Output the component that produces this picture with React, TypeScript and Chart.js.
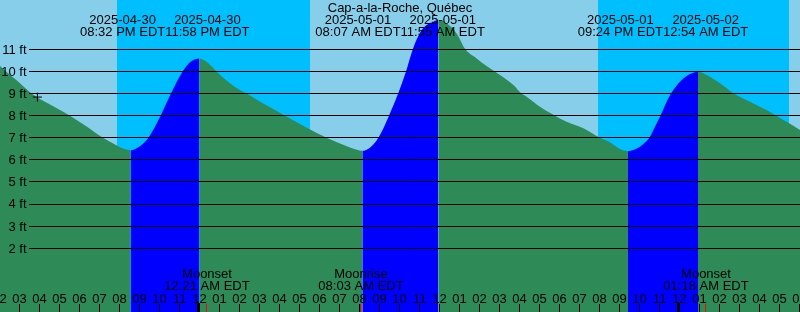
import { useEffect, useRef } from "react";
import { Chart, registerables } from "chart.js";

Chart.register(...registerables);

const TITLE = "Cap-a-la-Roche, Québec";

// hours since 2025-04-30 00:00 EDT
const sampleHours = [
  14.0, 14.3, 14.8, 15.58, 16.5, 17.5, 18.35, 19.15, 19.75, 20.2, 20.533,
  21.0, 21.42, 22.03, 22.55, 23.13, 23.55, 23.967,
  24.25, 24.5, 24.83, 25.25, 25.75, 26.33, 27.25, 28.25, 29.25, 30.33, 31.25, 31.75, 32.117,
  32.5, 32.92, 33.45, 33.95, 34.3, 34.64, 35.0, 35.33, 35.67, 35.917,
  36.33, 36.83, 37.27, 37.83, 38.33, 39.0, 39.67, 40.08, 40.33, 41.0, 41.75, 42.33, 43.17, 44.0, 44.5, 45.0, 45.4,
  46.0, 46.25, 46.5, 46.75, 47.0, 47.5, 48.0, 48.5, 48.9,
  49.33, 50.0, 50.67, 51.5, 52.33, 52.75, 53.33, 54.0,
];
const sampleFeet = [
  10.24, 10.0, 9.62, 9.0, 8.5, 8.0, 7.5, 7.0, 6.7, 6.5, 6.44,
  6.62, 7.0, 8.0, 9.0, 10.0, 10.45, 10.59,
  10.48, 10.3, 10.0, 9.65, 9.3, 9.0, 8.5, 8.0, 7.5, 7.0, 6.65, 6.48, 6.41,
  6.55, 7.0, 8.0, 9.1, 10.0, 11.0, 11.75, 12.1, 12.25, 12.32,
  12.18, 11.72, 11.0, 10.59, 10.24, 9.84, 9.39, 9.0, 8.86, 8.4, 8.0, 7.72, 7.43, 7.0, 6.8, 6.49, 6.39,
  6.59, 6.78, 7.05, 7.5, 7.95, 8.92, 9.53, 9.88, 9.99,
  9.84, 9.46, 9.01, 8.63, 8.25, 8.03, 7.72, 7.35,
];

const tideEventHours = [20.533, 23.967, 32.117, 35.917, 45.4, 48.9];
const tideEventDates = ["2025-04-30", "2025-04-30", "2025-05-01", "2025-05-01", "2025-05-01", "2025-05-02"];
const tideEventTimes = ["08:32 PM EDT", "11:58 PM EDT", "08:07 AM EDT", "11:55 AM EDT", "09:24 PM EDT", "12:54 AM EDT"];

const moonEventHours = [24.35, 32.05, 49.3];
const moonEventNames = ["Moonset", "Moonrise", "Moonset"];
const moonEventTimes = ["12:21 AM EDT", "08:03 AM EDT", "01:18 AM EDT"];

const nightStarts = [19.85, 43.9];
const nightEnds = [29.5, 53.45];

const depthTicks = [2, 3, 4, 5, 6, 7, 8, 9, 10, 11];
const depthTickLabels = ["2 ft", "3 ft", "4 ft", "5 ft", "6 ft", "7 ft", "8 ft", "9 ft", "10 ft", "11 ft"];

const hourTickValues = [
  14, 15, 16, 17, 18, 19, 20, 21, 22, 23, 24, 25, 26, 27, 28, 29, 30, 31, 32, 33, 34,
  35, 36, 37, 38, 39, 40, 41, 42, 43, 44, 45, 46, 47, 48, 49, 50, 51, 52, 53, 54,
];
const hourTickLabels = [
  "02", "03", "04", "05", "06", "07", "08", "09", "10", "11", "12", "01", "02", "03", "04", "05", "06", "07", "08", "09", "10",
  "11", "12", "01", "02", "03", "04", "05", "06", "07", "08", "09", "10", "11", "12", "01", "02", "03", "04", "05", "06",
];
const midnightHours = [24, 48];

const markerHour = [15.87];
const markerFeet = [8.84];

const DAY = "#87CEEB";
const NIGHT = "#00BFFF";
const FLOOD = "#0000FF";
const EBB = "#2E8B57";
const FONT = '13px "Liberation Sans", Arial, sans-serif';

export default function App() {
  const ref = useRef<HTMLCanvasElement | null>(null);

  useEffect(() => {
    if (!ref.current) return;

    const decor = {
      id: "tideDecor",
      beforeDatasetsDraw(chart: any) {
        const { ctx, chartArea, scales } = chart;
        const xs = scales.x;
        ctx.save();
        ctx.fillStyle = DAY;
        ctx.fillRect(0, 0, chart.width, chart.height);
        ctx.fillStyle = NIGHT;
        for (let i = 0; i < nightStarts.length; i++) {
          const a = Math.round(xs.getPixelForValue(nightStarts[i]));
          const b = Math.round(xs.getPixelForValue(nightEnds[i]));
          ctx.fillRect(a, chartArea.top, b - a, chartArea.height);
        }
        ctx.restore();
      },
      afterDatasetsDraw(chart: any) {
        const { ctx, chartArea, scales } = chart;
        const xs = scales.x;
        const ys = scales.y;
        ctx.save();
        ctx.strokeStyle = "#000";
        ctx.lineWidth = 1;
        ctx.font = FONT;
        ctx.fillStyle = "#000";
        ctx.textAlign = "right";
        ctx.textBaseline = "alphabetic";
        depthTicks.forEach((v, i) => {
          const py = ys.getPixelForValue(v);
          const yy = Math.floor(py) + 0.5;
          ctx.beginPath();
          ctx.moveTo(29, yy);
          ctx.lineTo(chartArea.right, yy);
          ctx.stroke();
          ctx.fillText(depthTickLabels[i], 26.5, py + 4.3);
        });

        ctx.textAlign = "center";
        ctx.fillText(TITLE, 400, 12);

        const centers = tideEventHours.map((h) => xs.getPixelForValue(h));
        const widths = tideEventHours.map((_, i) =>
          Math.max(ctx.measureText(tideEventDates[i]).width, ctx.measureText(tideEventTimes[i]).width)
        );
        for (let i = 1; i < centers.length; i++) {
          const rightPrev = centers[i - 1] + widths[i - 1] / 2;
          const leftCur = centers[i] - widths[i] / 2;
          if (leftCur < rightPrev) {
            const ov = rightPrev - leftCur;
            centers[i - 1] -= ov / 2;
            centers[i] += ov / 2;
          }
        }
        centers.forEach((cx, i) => {
          ctx.fillText(tideEventDates[i], cx, 24.3);
          ctx.fillText(tideEventTimes[i], cx, 36);
        });

        moonEventHours.forEach((h, i) => {
          const cx = xs.getPixelForValue(h);
          ctx.fillText(moonEventNames[i], cx, 278.3);
          ctx.fillText(moonEventTimes[i], cx, 290.3);
        });

        hourTickValues.forEach((h, i) => {
          const px = xs.getPixelForValue(h);
          ctx.fillStyle = "#000";
          ctx.fillRect(Math.round(px) - 1, 304, 1, 8);
          ctx.fillText(hourTickLabels[i], px - 0.5, 302.6);
        });
        midnightHours.forEach((h) => {
          const px = Math.round(xs.getPixelForValue(h));
          ctx.fillRect(px - 3, 303, 3, 9);
        });
        ctx.fillStyle = "#FF0000";
        moonEventHours.forEach((h) => {
          const px = Math.round(xs.getPixelForValue(h));
          ctx.fillRect(px - 1, 304, 1, 8);
        });
        ctx.restore();
      },
    };

    const chart = new Chart(ref.current, {
      type: "line",
      data: {
        datasets: [
          {
            type: "line",
            data: sampleHours.map((h, i) => ({ x: h, y: sampleFeet[i] })),
            fill: "start",
            backgroundColor: EBB,
            borderColor: "rgba(0,0,0,0)",
            borderWidth: 0,
            pointRadius: 0,
            cubicInterpolationMode: "monotone",
            segment: {
              backgroundColor: (c: any) => (c.p1.parsed.y >= c.p0.parsed.y ? FLOOD : EBB),
            },
            order: 2,
          } as any,
          {
            type: "scatter",
            data: markerHour.map((h, i) => ({ x: h, y: markerFeet[i] })),
            pointStyle: "cross",
            pointRadius: 4.5,
            borderColor: "#000",
            borderWidth: 1,
            showLine: false,
            clip: false,
            order: 1,
          } as any,
        ],
      },
      options: {
        animation: false,
        responsive: false,
        devicePixelRatio: 1,
        layout: { padding: 0, autoPadding: false },
        plugins: { legend: { display: false }, tooltip: { enabled: false } },
        events: [],
        scales: {
          x: { type: "linear", min: 14, max: 54, display: false },
          y: { type: "linear", min: -0.88, max: 13.23, display: false },
        },
      },
      plugins: [decor],
    });
    return () => chart.destroy();
  }, []);

  return (
    <div style={{ position: "absolute", left: 0, top: 0, width: 800, height: 312 }}>
      <canvas ref={ref} width={800} height={312} style={{ display: "block", width: 800, height: 312 }} />
    </div>
  );
}
